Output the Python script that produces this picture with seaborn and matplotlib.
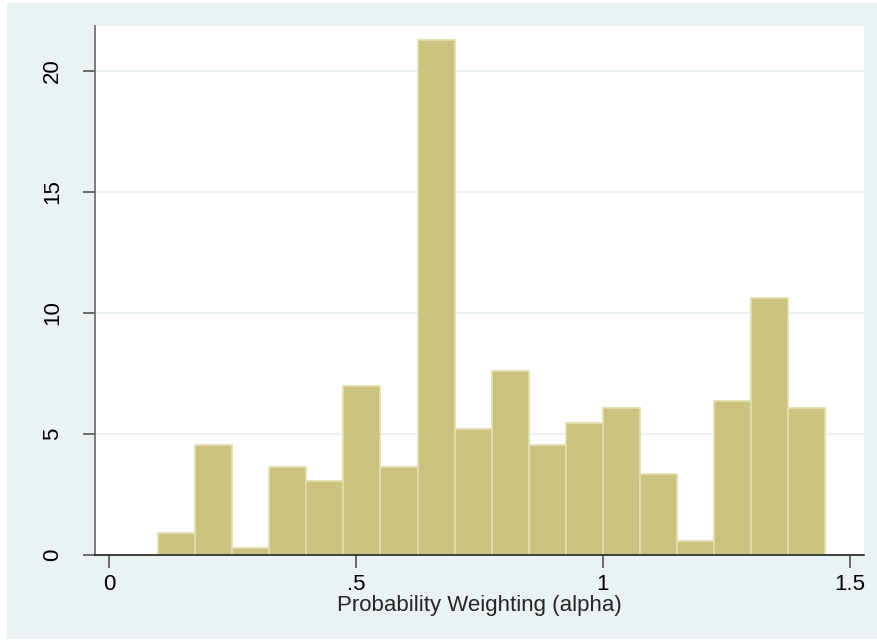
import numpy as np
import pandas as pd
import matplotlib
matplotlib.use("Agg")
import matplotlib.pyplot as plt
import seaborn as sns
from matplotlib.patches import Rectangle

# bin edges and bar heights (percent)
bin_start = 0.1
bin_width = 0.075
n_bins = 18
percent = [0.90, 4.55, 0.30, 3.64, 3.04, 6.99, 3.64, 21.29, 5.19,
           7.58, 4.55, 5.45, 6.07, 3.33, 0.57, 6.36, 10.63, 6.07]
x_ticks = [0, 0.5, 1, 1.5]
x_tick_labels = ["0", ".5", "1", "1.5"]
y_ticks = [0, 5, 10, 15, 20]
x_label = "Probability Weighting (alpha)"

edges = bin_start + bin_width * np.arange(n_bins + 1)
df = pd.DataFrame({"alpha": (edges[:-1] + edges[1:]) / 2, "percent": percent})

sns.set_style("white")
plt.rcParams['font.family'] = ['Liberation Sans', 'DejaVu Sans']

bg = "#EAF2F3"
fig = plt.figure(figsize=(8.78, 6.40), dpi=100)
fig.patch.set_facecolor("white")
fig.patches.append(Rectangle((7 / 878, 1 / 640), 1, 1 - 4 / 640, transform=fig.transFigure,
                             facecolor=bg, edgecolor="none", zorder=-10))

ax = fig.add_axes([95 / 878, 1 - 555 / 640, (864 - 95) / 878, (555 - 26) / 640])
ax.set_facecolor("white")

# bins passed as a list (seaborn compares bins == "auto")
sns.histplot(data=df, x="alpha", weights="percent", bins=edges.tolist(), ax=ax,
             color="#CBC280", edgecolor="#E2DEAE", linewidth=1.3, alpha=1)

ax.set_xlim(-0.028, 1.529)
ax.set_ylim(0, 21.85)
ax.set_xticks(x_ticks)
ax.set_xticklabels(x_tick_labels)
ax.set_yticks(y_ticks)
ax.set_yticklabels([str(v) for v in y_ticks], rotation=90, va="center")
ax.tick_params(axis="both", direction="out", length=9, width=1.2, color="#555555",
               labelsize=16, labelcolor="black")
ax.tick_params(axis="x", bottom=True, pad=5)
ax.tick_params(axis="y", left=True, pad=14)

ax.grid(axis="y", color=bg, linewidth=1.5)
ax.set_axisbelow(True)
for s in ["top", "right"]:
    ax.spines[s].set_visible(False)
ax.spines["left"].set_color("#666666")
ax.spines["bottom"].set_color("#222222")
ax.spines["left"].set_linewidth(1.2)
ax.spines["bottom"].set_linewidth(1.2)

ax.set_ylabel("")
ax.set_xlabel(x_label, fontsize=16, labelpad=0)

fig.savefig("out.png", dpi=100, facecolor=fig.get_facecolor())
